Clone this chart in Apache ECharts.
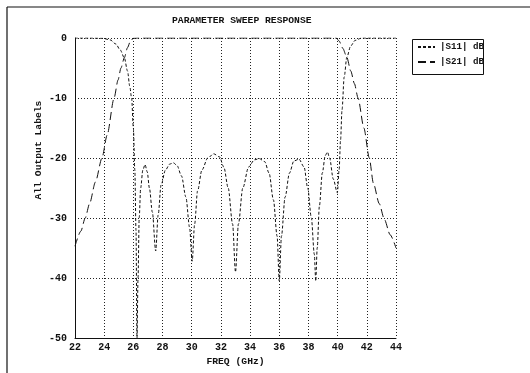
<!DOCTYPE html>
<html>
<head>
<meta charset="utf-8">
<script src="https://cdn.jsdelivr.net/npm/echarts@6/dist/echarts.min.js"></script>
<style>
html,body{margin:0;padding:0;background:#fff;}
#chart{width:530px;height:373px;}
</style>
</head>
<body>
<div id="chart"></div>
<script>
const titleText = 'PARAMETER SWEEP RESPONSE';
const xName = 'FREQ (GHz)';
const yName = 'All Output Labels';
const seriesNames = ['|S11| dB', '|S21| dB'];
const xTicks = [22, 24, 26, 28, 30, 32, 34, 36, 38, 40, 42, 44];
const yTicks = [-50, -40, -30, -20, -10, 0];

const s11Freq = [22, 23, 23.9, 24.4, 24.8, 25.1, 25.38, 25.6, 25.75, 25.88, 26.0, 26.1, 26.18, 26.25,
  26.32, 26.4, 26.5, 26.65, 26.8, 26.95, 27.1, 27.3, 27.53, 27.7, 27.9, 28.2, 28.5, 28.75, 29.0, 29.3,
  29.6, 29.85, 30.03, 30.2, 30.4, 30.7, 31.1, 31.5, 31.9, 32.2, 32.5, 32.8, 33.0, 33.2, 33.5, 33.9,
  34.3, 34.63, 35.0, 35.3, 35.6, 35.85, 36.0, 36.15, 36.4, 36.7, 37.0, 37.35, 37.7, 37.95, 38.2, 38.4,
  38.5, 38.6, 38.75, 38.95, 39.15, 39.3, 39.45, 39.7, 39.98, 40.1, 40.2, 40.3, 40.45, 40.63, 40.9,
  41.2, 41.65, 44];
const s11Values = [0, 0, -0.05, -0.3, -1.0, -2.0, -3.3, -5.5, -8, -10, -15, -22, -32, -50,
  -40, -30, -25, -22, -21.1, -22.3, -25, -29, -35.5, -29.5, -24.5, -22, -21, -20.8, -21.3, -23,
  -26.5, -31.5, -37.2, -31, -25.5, -22, -20, -19.3, -19.8, -21.5, -25, -31, -39, -31, -25, -21.5,
  -20.3, -20.1, -20.6, -22.5, -27, -33, -40.5, -33, -26.5, -22.5, -20.5, -20.2, -21.5, -25, -30, -36,
  -40.5, -35, -28, -22.5, -19.6, -19, -20, -23.5, -25.8, -22, -17, -12, -6.5, -3.2, -1.3,
  -0.4, 0, 0];

const s21Freq = [22, 22.4, 22.7, 23.0, 23.4, 23.85, 24.2, 24.68, 24.95, 25.15, 25.38, 25.6, 25.8, 26.0,
  26.3, 39.9, 40.1, 40.35, 40.63, 40.9, 41.15, 41.4, 41.8, 42.17, 42.45, 42.85, 43.2, 43.6, 44];
const s21Values = [-34.7, -32.2, -30, -27.6, -24.0, -20, -16.2, -10, -7, -5, -3.3, -1.6, -0.5, -0.05,
  0, 0, -0.5, -1.7, -3.2, -5.5, -7.6, -10, -15, -20, -24.2, -27.6, -30.2, -32.8, -35];

const FONT = 'Liberation Mono';
const INK = '#111';

const chart = echarts.init(document.getElementById('chart'), null, {renderer: 'canvas'});
const option = {
  backgroundColor: '#fff',
  animation: false,
  title: {
    text: titleText,
    left: 167, top: 11,
    textStyle: {fontFamily: FONT, fontSize: 9.7, fontWeight: 'bold', color: INK}
  },
  legend: {
    left: 417, top: 42, orient: 'vertical',
    itemWidth: 17, itemHeight: 10, itemGap: 5,
    itemStyle: {opacity: 0},
    textStyle: {fontFamily: FONT, fontSize: 9.2, fontWeight: 'bold', color: INK, lineHeight: 10},
    data: seriesNames,
    padding: 0
  },
  grid: {left: 75, top: 38, width: 321, height: 300, containLabel: false},
  xAxis: {
    type: 'value', min: xTicks[0], max: xTicks[xTicks.length - 1], interval: 2,
    name: xName, nameLocation: 'middle', nameGap: 19,
    nameTextStyle: {fontFamily: FONT, fontSize: 9.7, fontWeight: 'bold', color: INK},
    axisLine: {show: true, onZero: false, lineStyle: {color: INK, width: 1}},
    axisTick: {show: false},
    axisLabel: {margin: 4, fontFamily: FONT, fontSize: 10, fontWeight: 'bold', color: INK},
    splitLine: {show: true, lineStyle: {color: '#222', type: [1, 2], width: 1}}
  },
  yAxis: {
    type: 'value', min: yTicks[0], max: yTicks[yTicks.length - 1], interval: 10,
    axisLine: {show: true, onZero: false, lineStyle: {color: INK, width: 1}},
    axisTick: {show: false},
    axisLabel: {margin: 8, fontFamily: FONT, fontSize: 10, fontWeight: 'bold', color: INK},
    splitLine: {show: true, lineStyle: {color: '#222', type: [1, 2], width: 1}}
  },
  graphic: [
    {type: 'line', z: 100, shape: {x1: 7, y1: 7, x2: 530, y2: 7}, style: {stroke: INK, lineWidth: 1.2}},
    {type: 'line', z: 100, shape: {x1: 7, y1: 7, x2: 7, y2: 373}, style: {stroke: INK, lineWidth: 1.2}},
    {type: 'rect', z: 100, shape: {x: 483.5, y: 39, width: 20, height: 36}, style: {fill: '#fff'}},
    {type: 'rect', z: 101, shape: {x: 412.5, y: 39.5, width: 71, height: 35}, style: {fill: 'none', stroke: INK, lineWidth: 1}},
    {type: 'text', z: 100, x: 39, y: 150, rotation: Math.PI / 2,
      style: {text: yName, fontFamily: FONT, fontSize: 9.7, fontWeight: 'bold', fill: INK, align: 'center', verticalAlign: 'middle'}}
  ],
  series: [
    {
      name: seriesNames[0], type: 'line', symbol: 'none', smooth: 0.3, smoothMonotone: 'x',
      data: s11Freq.map((f, i) => [f, s11Values[i]]),
      lineStyle: {color: INK, width: 1, type: [3, 2]}, itemStyle: {color: INK}, z: 3
    },
    {
      name: seriesNames[1], type: 'line', symbol: 'none', smooth: 0.25, smoothMonotone: 'x',
      data: s21Freq.map((f, i) => [f, s21Values[i]]),
      lineStyle: {color: INK, width: 1, type: [8, 4]}, itemStyle: {color: INK}, z: 3
    }
  ]
};
chart.setOption(option);
</script>
</body>
</html>
